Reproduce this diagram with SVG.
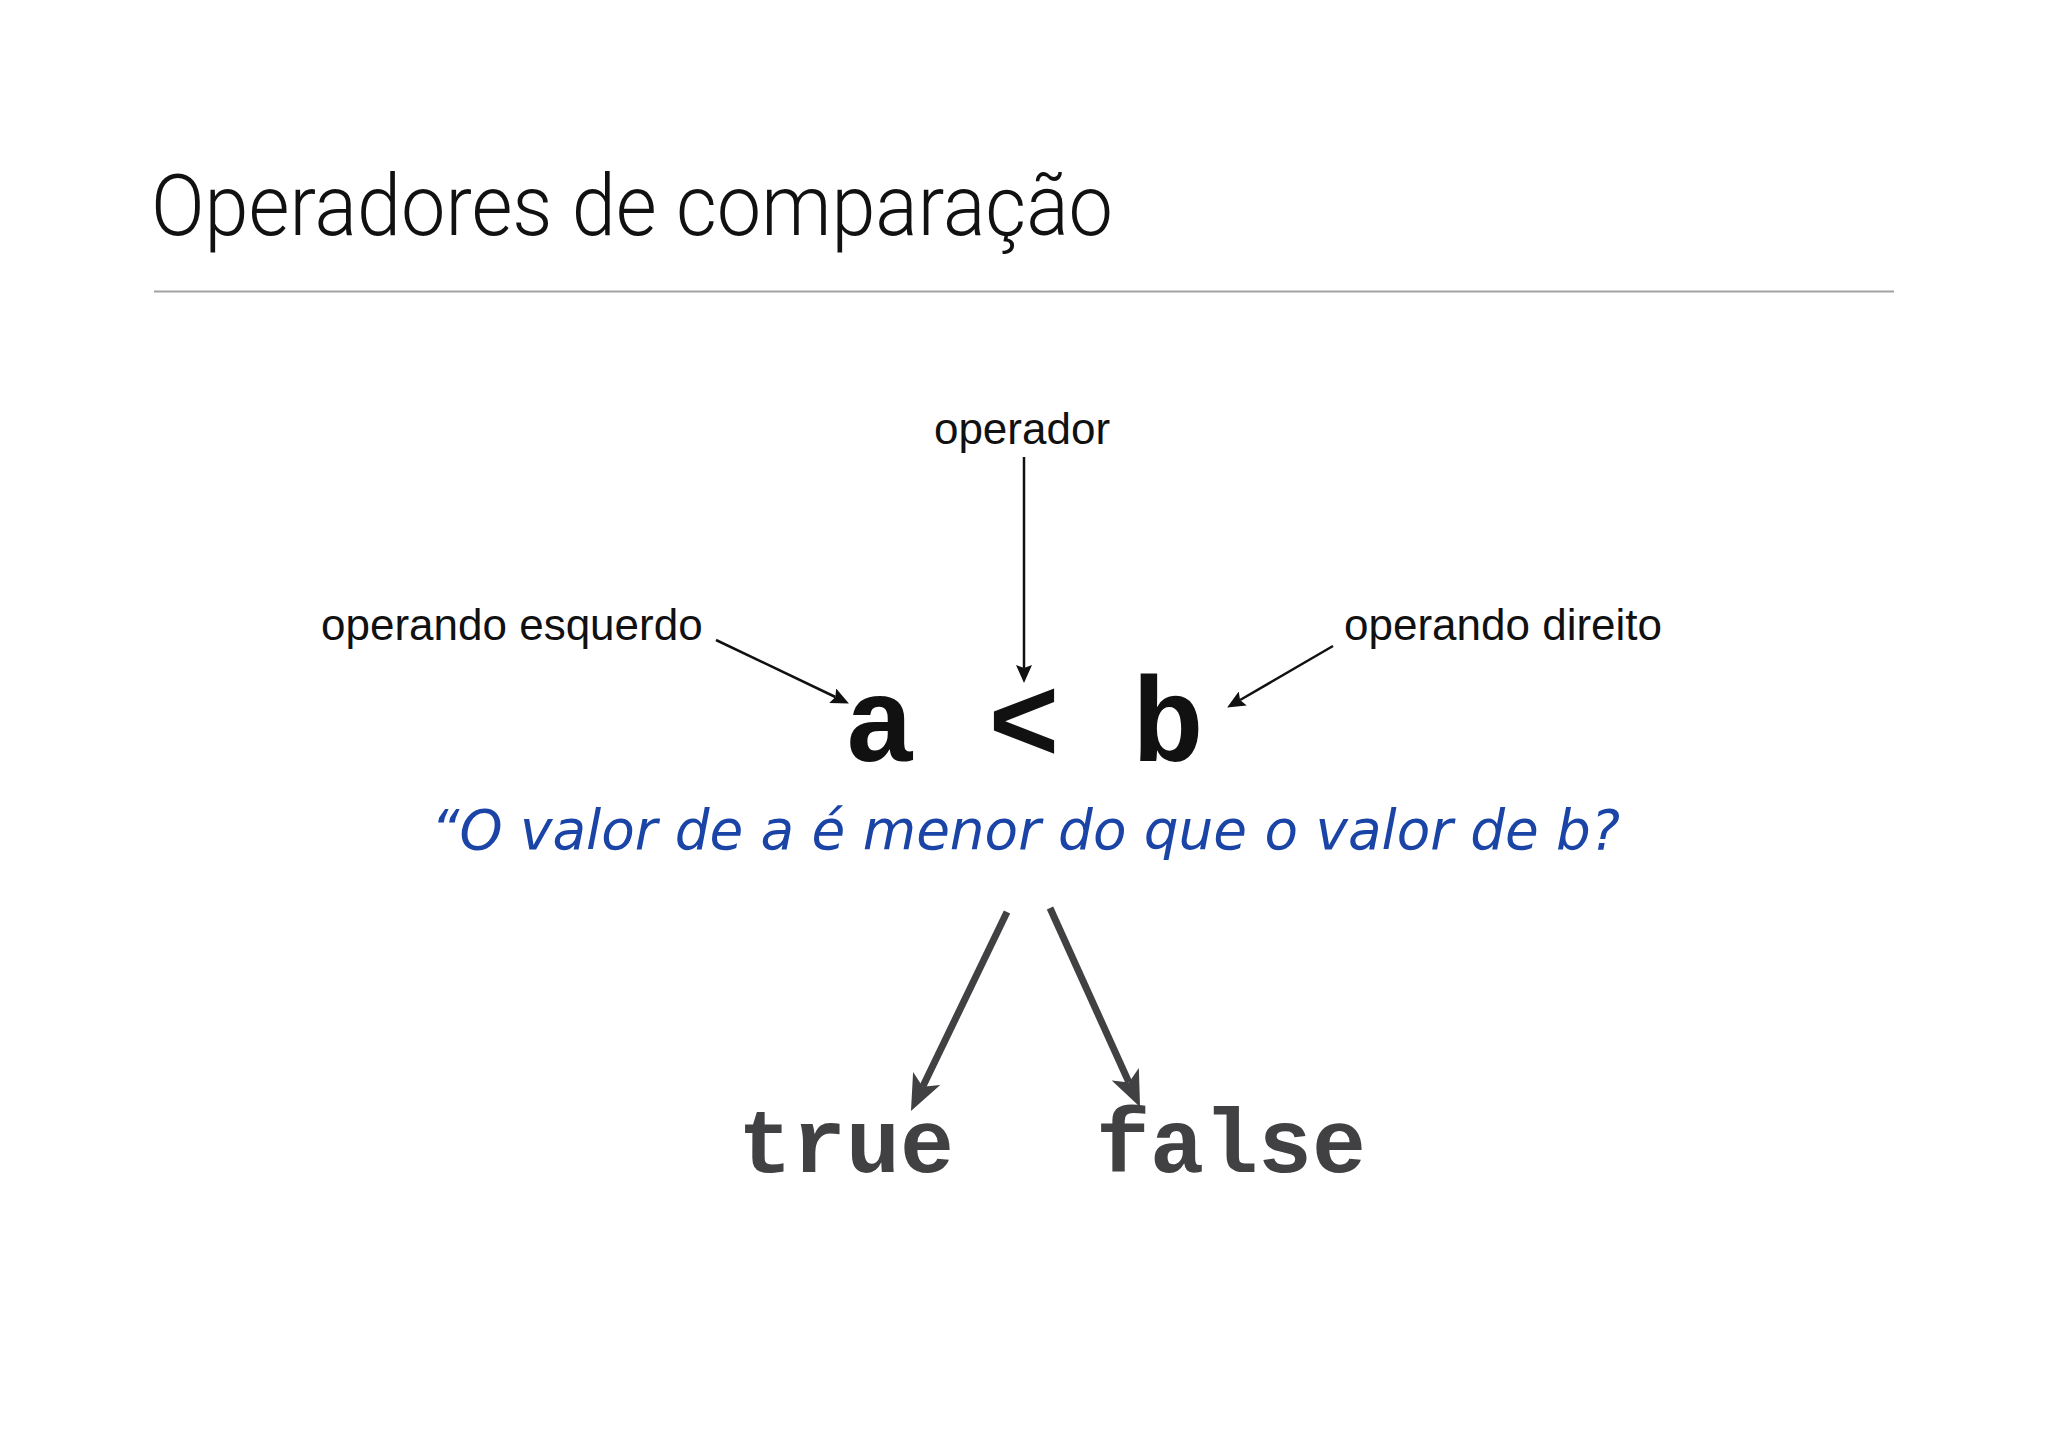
<svg xmlns="http://www.w3.org/2000/svg" width="2048" height="1447" viewBox="0 0 2048 1447">
<style>
.title{font-family:Roboto,"Liberation Sans",Arial,sans-serif;font-weight:300;font-size:86px;fill:#111}
.lbl{font-family:"Liberation Sans",Arial,sans-serif;font-size:44px;fill:#111}
.code{font-family:"Liberation Mono","Courier New",monospace;font-weight:bold}
.quote{font-family:"DejaVu Sans","Noto Sans",sans-serif;font-style:italic;font-size:56px;fill:#1a44a6}
.thin{stroke:#111;stroke-width:2.5;fill:none}
.thick{stroke:#414042;stroke-width:7;fill:none}
</style>
<defs>
<marker id="ah-thin" markerUnits="userSpaceOnUse" markerWidth="18" markerHeight="16" refX="3" refY="8" orient="auto" viewBox="0 0 18 16">
<path d="M0,0 L18,8 L0,16 L3,8 z" fill="#111"/>
</marker>
<marker id="ah-thick" markerUnits="userSpaceOnUse" markerWidth="36" markerHeight="30" refX="9" refY="15" orient="auto" viewBox="0 0 36 30">
<path d="M0,0 L36,15 L0,30 L9,15 z" fill="#414042"/>
</marker>
</defs>
<rect width="2048" height="1447" fill="#ffffff"/>
<g id="title">
<text class="title" x="151" y="235" textLength="962" lengthAdjust="spacingAndGlyphs">Operadores de comparação</text>
<line x1="154" y1="291.5" x2="1894" y2="291.5" stroke="#a3a3a3" stroke-width="2"/>
</g>
<g id="operador"><text class="lbl" x="1022" y="444" text-anchor="middle">operador</text></g>
<g id="operando-esquerdo"><text class="lbl" x="321" y="640">operando esquerdo</text></g>
<g id="operando-direito"><text class="lbl" x="1344" y="640">operando direito</text></g>
<g id="expr"><text class="code" x="1024" y="761" text-anchor="middle" font-size="120" fill="#111" xml:space="preserve">a &lt; b</text></g>
<g id="pergunta"><text class="quote" x="431" y="849" textLength="1189" lengthAdjust="spacingAndGlyphs">“O valor de a é menor do que o valor de b?</text></g>
<g id="true"><text class="code" x="738" y="1172" font-size="90" fill="#414042">true</text></g>
<g id="false"><text class="code" x="1096" y="1172" font-size="90" fill="#414042">false</text></g>
<g id="connectors">
<line class="thin" x1="1024" y1="457" x2="1024" y2="668" marker-end="url(#ah-thin)"/>
<line class="thin" x1="716" y1="640" x2="835.4" y2="697" marker-end="url(#ah-thin)"/>
<line class="thin" x1="1333" y1="646" x2="1240.1" y2="700" marker-end="url(#ah-thin)"/>
<line class="thick" x1="1007" y1="912" x2="922.7" y2="1086.7" marker-end="url(#ah-thick)"/>
<line class="thick" x1="1050" y1="908" x2="1128.9" y2="1082.4" marker-end="url(#ah-thick)"/>
</g>
</svg>
